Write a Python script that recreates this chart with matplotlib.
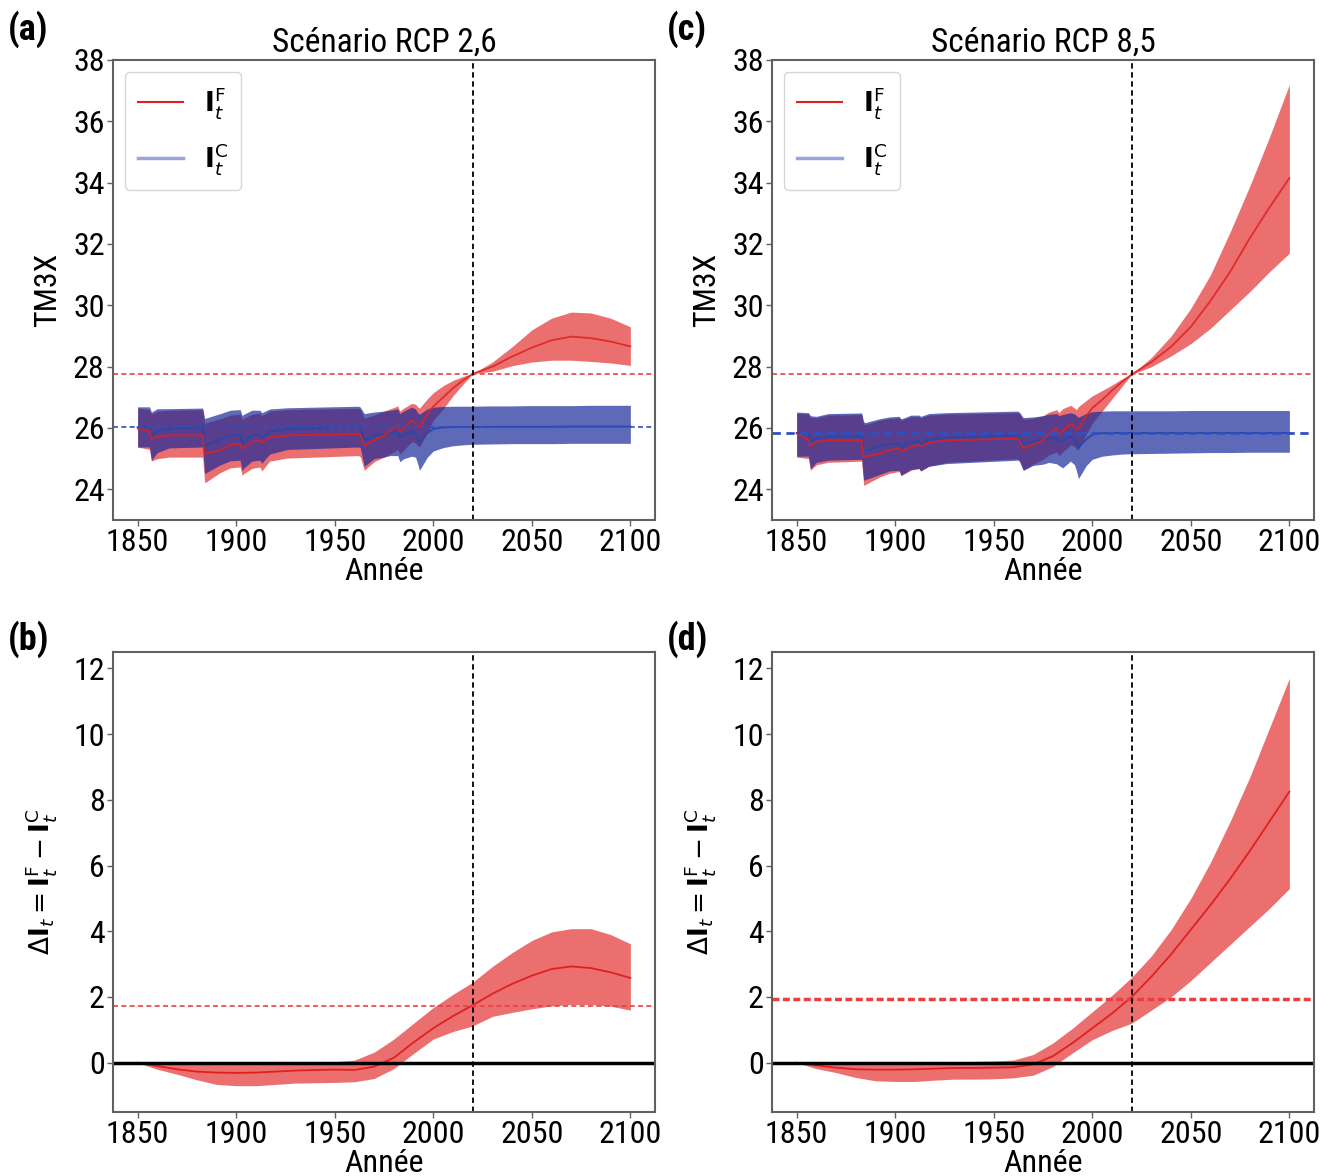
import numpy as np
import matplotlib
matplotlib.use("Agg")
import matplotlib.pyplot as plt
from matplotlib import font_manager
from matplotlib.lines import Line2D

# narrow sans for the labels, whichever is installed
fonts = font_manager.fontManager.ttflist
names = {f.name for f in fonts}
narrow = None
for cand in ['Liberation Sans Narrow', 'Roboto Condensed', 'Open Sans Condensed', 'Noto Sans Condensed']:
    if cand in names:
        narrow = cand
        break
has_cond = any(f.name == 'DejaVu Sans' and str(f.stretch) in ('condensed', 'semi-condensed', '87', '75')
               for f in fonts)
if narrow is not None:
    plt.rcParams['font.family'] = [narrow, 'DejaVu Sans']
    FS = 23
elif has_cond:
    plt.rcParams['font.family'] = ['DejaVu Sans']
    plt.rcParams['font.stretch'] = 'condensed'
    FS = 21
else:
    plt.rcParams['font.family'] = ['DejaVu Sans']
    FS = 19
plt.rcParams['mathtext.fontset'] = 'dejavusans'

# ---- historical + projection nodes for the index panels ----
years = [1850, 1856, 1857, 1860, 1866, 1883, 1884, 1885, 1892, 1897, 1902, 1903, 1904,
         1908, 1912, 1913, 1917, 1926, 1962, 1963, 1965, 1970, 1975, 1978, 1982, 1983,
         1985, 1989, 1991, 1992, 1993, 1997, 2000, 2005, 2010, 2015, 2020, 2030, 2040,
         2050, 2060, 2070, 2080, 2090, 2100]

# RCP 2.6 - factual (F)
f26_mean = [25.98, 25.90, 25.65, 25.72, 25.76, 25.76, 25.16, 25.18, 25.27, 25.45, 25.49, 25.32, 25.36,
            25.55, 25.60, 25.52, 25.70, 25.76, 25.80, 25.78, 25.43, 25.60, 25.75, 25.92, 26.09, 25.90,
            25.98, 26.25, 26.15, 26.05, 26.03, 26.45, 26.70, 27.00, 27.30, 27.55, 27.77, 28.00, 28.33,
            28.62, 28.86, 28.98, 28.93, 28.82, 28.66]
f26_hi = [26.65, 26.60, 26.45, 26.55, 26.58, 26.60, 26.15, 26.18, 26.30, 26.42, 26.45, 26.28, 26.32,
          26.45, 26.48, 26.40, 26.55, 26.60, 26.64, 26.60, 26.32, 26.42, 26.55, 26.62, 26.72, 26.55,
          26.65, 26.80, 26.78, 26.70, 26.65, 26.95, 27.15, 27.38, 27.55, 27.68, 27.77, 28.15, 28.65,
          29.20, 29.58, 29.78, 29.75, 29.58, 29.30]
f26_lo = [25.38, 25.30, 24.92, 25.00, 25.05, 25.05, 24.22, 24.25, 24.55, 24.70, 24.73, 24.46, 24.52,
          24.68, 24.73, 24.60, 24.92, 25.02, 25.10, 25.06, 24.62, 24.90, 25.05, 25.15, 25.30, 25.15,
          25.28, 25.55, 25.52, 25.42, 25.38, 25.85, 26.25, 26.62, 27.05, 27.42, 27.77, 27.85, 28.03,
          28.15, 28.21, 28.21, 28.17, 28.12, 28.04]
# RCP 2.6 - counterfactual (C)
c26_mean = [26.03, 26.03, 25.73, 25.91, 25.99, 26.01, 25.41, 25.44, 25.63, 25.75, 25.77, 25.51, 25.57,
            25.75, 25.76, 25.67, 25.88, 25.98, 26.03, 26.00, 25.61, 25.76, 25.80, 25.84, 25.86, 25.69,
            25.78, 25.88, 25.84, 25.68, 25.54, 25.84, 25.97, 26.02, 26.03, 26.03, 26.03, 26.04, 26.04,
            26.04, 26.04, 26.05, 26.05, 26.05, 26.05]
c26_hi = [26.69, 26.69, 26.52, 26.63, 26.63, 26.65, 26.31, 26.33, 26.47, 26.58, 26.60, 26.41, 26.45,
          26.58, 26.58, 26.50, 26.62, 26.66, 26.71, 26.68, 26.47, 26.52, 26.55, 26.58, 26.62, 26.47,
          26.55, 26.68, 26.62, 26.50, 26.45, 26.62, 26.68, 26.70, 26.71, 26.71, 26.71, 26.72, 26.72,
          26.73, 26.73, 26.73, 26.74, 26.74, 26.74]
c26_lo = [25.38, 25.38, 24.95, 25.20, 25.35, 25.38, 24.51, 24.55, 24.80, 24.93, 24.95, 24.62, 24.70,
          24.92, 24.95, 24.85, 25.15, 25.30, 25.38, 25.35, 24.75, 25.00, 25.05, 25.10, 25.10, 24.90,
          25.00, 25.08, 25.05, 24.85, 24.62, 25.05, 25.25, 25.36, 25.42, 25.45, 25.47, 25.48, 25.49,
          25.49, 25.49, 25.50, 25.50, 25.50, 25.50]

# RCP 8.5 - factual (F)
f85_mean = [25.82, 25.62, 25.43, 25.55, 25.60, 25.60, 25.05, 25.08, 25.16, 25.28, 25.33, 25.22, 25.25,
            25.38, 25.45, 25.40, 25.52, 25.60, 25.65, 25.60, 25.33, 25.45, 25.60, 25.82, 25.98, 25.80,
            25.90, 26.14, 26.05, 25.95, 25.98, 26.40, 26.65, 26.92, 27.22, 27.50, 27.75, 28.15, 28.65,
            29.30, 30.15, 31.10, 32.20, 33.20, 34.15]
f85_hi = [26.48, 26.45, 26.35, 26.33, 26.42, 26.44, 26.12, 26.12, 26.25, 26.31, 26.33, 26.25, 26.27,
          26.37, 26.37, 26.33, 26.42, 26.45, 26.50, 26.47, 26.28, 26.32, 26.40, 26.52, 26.60, 26.50,
          26.63, 26.74, 26.65, 26.60, 26.70, 26.90, 27.05, 27.22, 27.40, 27.60, 27.75, 28.30, 29.00,
          29.90, 31.00, 32.40, 33.90, 35.50, 37.20]
f85_lo = [25.05, 25.00, 24.62, 24.80, 24.88, 24.92, 24.13, 24.16, 24.40, 24.52, 24.58, 24.45, 24.48,
          24.62, 24.68, 24.60, 24.75, 24.88, 25.00, 24.96, 24.62, 24.82, 24.98, 25.12, 25.22, 25.10,
          25.22, 25.45, 25.40, 25.30, 25.30, 25.80, 26.15, 26.55, 26.95, 27.35, 27.75, 28.00, 28.35,
          28.75, 29.25, 29.85, 30.45, 31.10, 31.70]
# RCP 8.5 - counterfactual (C)
c85_mean = [25.84, 25.82, 25.55, 25.65, 25.72, 25.74, 25.25, 25.26, 25.40, 25.48, 25.50, 25.37, 25.42,
            25.54, 25.56, 25.48, 25.62, 25.68, 25.76, 25.73, 25.48, 25.57, 25.62, 25.67, 25.66, 25.58,
            25.58, 25.72, 25.64, 25.50, 25.35, 25.64, 25.78, 25.83, 25.84, 25.84, 25.84, 25.84, 25.84,
            25.84, 25.84, 25.84, 25.84, 25.84, 25.84]
c85_hi = [26.52, 26.50, 26.40, 26.38, 26.47, 26.49, 26.20, 26.18, 26.30, 26.36, 26.38, 26.30, 26.32,
          26.42, 26.42, 26.38, 26.47, 26.50, 26.55, 26.52, 26.34, 26.36, 26.40, 26.45, 26.47, 26.40,
          26.44, 26.50, 26.46, 26.40, 26.35, 26.48, 26.53, 26.55, 26.56, 26.56, 26.56, 26.56, 26.56,
          26.57, 26.57, 26.57, 26.57, 26.57, 26.57]
c85_lo = [25.08, 25.08, 24.67, 24.88, 24.95, 24.98, 24.30, 24.32, 24.48, 24.60, 24.62, 24.45, 24.50,
          24.65, 24.68, 24.60, 24.75, 24.84, 24.95, 24.92, 24.62, 24.78, 24.82, 24.88, 24.83, 24.78,
          24.70, 24.92, 24.80, 24.60, 24.35, 24.78, 24.98, 25.08, 25.12, 25.15, 25.16, 25.17, 25.18,
          25.19, 25.20, 25.20, 25.21, 25.21, 25.21]

# ---- difference panels ----
years_d = [1850, 1860, 1870, 1880, 1890, 1900, 1910, 1920, 1930, 1940, 1950, 1960, 1970,
           1980, 1990, 2000, 2010, 2020, 2030, 2040, 2050, 2060, 2070, 2080, 2090, 2100]
d26_mean = [0, -0.10, -0.20, -0.27, -0.30, -0.31, -0.30, -0.27, -0.24, -0.22, -0.21, -0.22, -0.12,
            0.15, 0.62, 1.05, 1.42, 1.75, 2.10, 2.40, 2.65, 2.85, 2.93, 2.88, 2.75, 2.58]
d26_hi = [0, -0.02, -0.03, -0.02, -0.01, 0.0, 0.0, 0.01, 0.02, 0.02, 0.03, 0.08, 0.32,
          0.72, 1.20, 1.68, 2.08, 2.45, 2.93, 3.35, 3.72, 3.98, 4.08, 4.08, 3.90, 3.62]
d26_lo = [0, -0.20, -0.35, -0.52, -0.66, -0.70, -0.70, -0.66, -0.62, -0.61, -0.60, -0.58, -0.48,
          -0.18, 0.28, 0.72, 0.95, 1.12, 1.41, 1.53, 1.64, 1.73, 1.77, 1.77, 1.72, 1.60]
d85_mean = [0, -0.08, -0.15, -0.20, -0.21, -0.21, -0.20, -0.18, -0.16, -0.16, -0.15, -0.14, -0.05,
            0.20, 0.60, 1.05, 1.50, 2.00, 2.62, 3.30, 4.05, 4.80, 5.60, 6.45, 7.35, 8.25]
d85_hi = [0, 0.0, 0.0, 0.01, 0.01, 0.02, 0.02, 0.03, 0.03, 0.04, 0.05, 0.08, 0.25,
          0.60, 1.05, 1.55, 2.05, 2.60, 3.25, 4.05, 5.00, 6.10, 7.35, 8.70, 10.20, 11.70]
d85_lo = [0, -0.18, -0.30, -0.45, -0.55, -0.57, -0.57, -0.53, -0.50, -0.50, -0.49, -0.46, -0.38,
          -0.12, 0.30, 0.70, 0.98, 1.20, 1.60, 2.00, 2.50, 3.05, 3.60, 4.15, 4.70, 5.30]

ref_year = 2020
thr_26, thr_85 = 27.77, 27.75        # TM3X level at the reference year (F)
base_26, base_85 = 26.04, 25.84      # counterfactual level
dthr_26, dthr_85 = 1.73, 1.95        # Delta at the reference year

RED_FILL = '#e01010'
BLUE_FILL = '#1a2a9a'
RED_LINE = '#e02020'
BLUE_LINE = '#2848a8'
SPINE = '#606060'

fig = plt.figure(figsize=(13.27, 11.76), dpi=100)
W, H = 1327, 1176
ax_a = fig.add_axes([113 / W, 1 - 520 / H, 542 / W, 460 / H])
ax_c = fig.add_axes([772 / W, 1 - 520 / H, 542 / W, 460 / H])
ax_b = fig.add_axes([113 / W, 1 - 1112 / H, 542 / W, 460 / H])
ax_d = fig.add_axes([772 / W, 1 - 1112 / H, 542 / W, 460 / H])


def style(ax):
    for s in ax.spines.values():
        s.set_color(SPINE)
        s.set_linewidth(1.5)
    ax.tick_params(labelsize=FS, length=4, width=1, color=SPINE, pad=2)
    ax.set_xlim(1837.5, 2112.5)
    ax.set_xticks([1850, 1900, 1950, 2000, 2050, 2100])
    ax.set_xlabel('Année', fontsize=FS, labelpad=0)


def top_panel(ax, f_m, f_h, f_l, c_m, c_h, c_l, thr, base, base_lw, title):
    ax.fill_between(years, f_l, f_h, color=RED_FILL, alpha=0.6, lw=0)
    ax.fill_between(years, c_l, c_h, color=BLUE_FILL, alpha=0.7, lw=0)
    ax.plot(years, c_m, color=BLUE_LINE, lw=1.3)
    ax.plot(years, f_m, color=RED_LINE, lw=1.3, alpha=0.85)
    ax.axhline(thr, color='#e84040', ls='--', lw=1.2, dashes=(3, 2))
    ax.axhline(base, color='#3050c0', ls='--', lw=base_lw, dashes=(3, 2))
    ax.axvline(ref_year, color='black', ls='--', lw=1.3, dashes=(3, 2))
    ax.set_ylim(23, 38)
    ax.set_yticks(range(24, 39, 2))
    ax.set_ylabel('TM3X', fontsize=FS, labelpad=8)
    ax.set_title(title, fontsize=FS + 1, pad=6)
    handles = [Line2D([], [], color=RED_LINE, lw=1.5),
               Line2D([], [], color='#3848b8', lw=2.5, alpha=0.5)]
    labels = [r'$\mathbf{I}_t^{\mathrm{F}}$', r'$\mathbf{I}_t^{\mathrm{C}}$']
    ax.legend(handles, labels, loc='upper left', fontsize=19, handlelength=1.7,
              labelspacing=0.75, borderpad=0.5, handletextpad=0.8, borderaxespad=0.45)
    style(ax)


def bottom_panel(ax, m, h, l, dthr, dlw):
    ax.fill_between(years_d, l, h, color=RED_FILL, alpha=0.6, lw=0)
    ax.plot(years_d, m, color=RED_LINE, lw=1.3)
    ax.axhline(dthr, color='#e84040', ls='--', lw=dlw, dashes=(3, 2) if dlw < 2 else (2, 1))
    ax.axhline(0, color='black', lw=2.5)
    ax.axvline(ref_year, color='black', ls='--', lw=1.3, dashes=(3, 2))
    ax.set_ylim(-1.5, 12.5)
    ax.set_yticks(range(0, 13, 2))
    ax.set_ylabel(r'$\Delta\mathbf{I}_t = \mathbf{I}_t^{\mathrm{F}} - \mathbf{I}_t^{\mathrm{C}}$',
                  fontsize=19, labelpad=10)
    style(ax)


top_panel(ax_a, f26_mean, f26_hi, f26_lo, c26_mean, c26_hi, c26_lo, thr_26, base_26, 1.2,
          'Scénario RCP 2,6')
top_panel(ax_c, f85_mean, f85_hi, f85_lo, c85_mean, c85_hi, c85_lo, thr_85, base_85, 2.0,
          'Scénario RCP 8,5')
bottom_panel(ax_b, d26_mean, d26_hi, d26_lo, dthr_26, 1.2)
bottom_panel(ax_d, d85_mean, d85_hi, d85_lo, dthr_85, 2.5)

for lab, x, y in [('(a)', 8, 10), ('(c)', 667, 10), ('(b)', 8, 620), ('(d)', 667, 620)]:
    fig.text(x / W, 1 - y / H, lab, fontsize=FS + 3, fontweight='bold', ha='left', va='top')

fig.savefig('out.png', dpi=100)
